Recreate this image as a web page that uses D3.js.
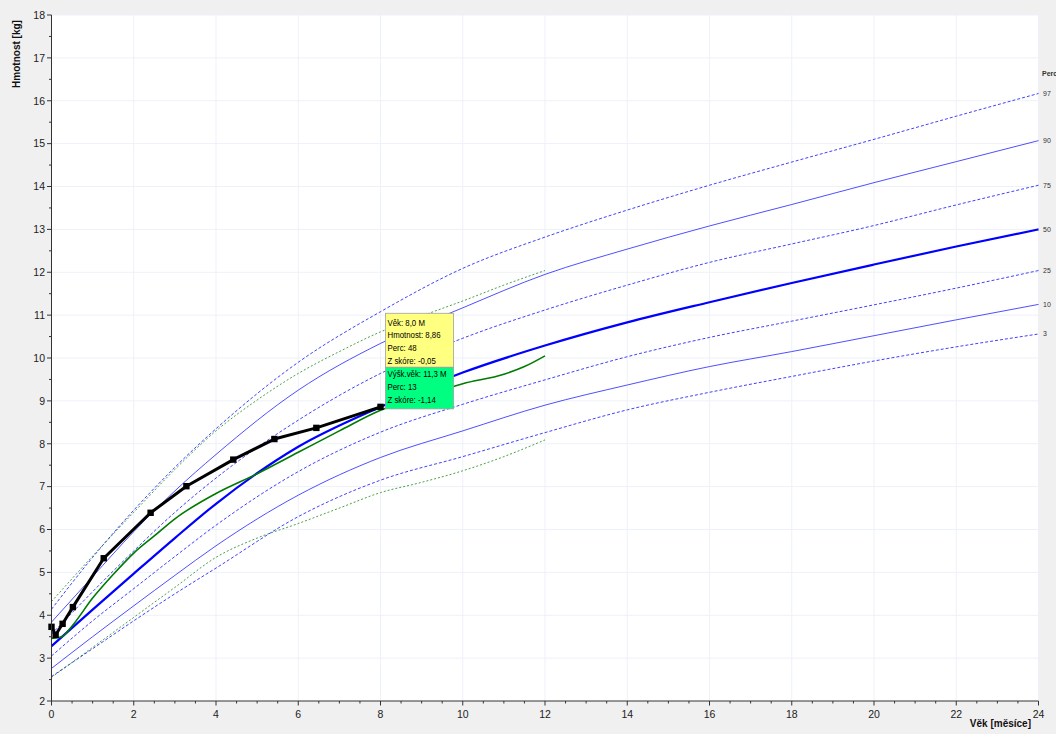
<!DOCTYPE html>
<html><head><meta charset="utf-8">
<script src="https://cdn.jsdelivr.net/npm/d3@7"></script>
<style>
html,body{margin:0;padding:0;background:#f0f0f0;}
svg{display:block;font-family:"Liberation Sans",Arial,sans-serif;}
</style></head><body>
<svg id="c" width="1056" height="734"></svg>
<script>
// ---- data ----
const months = [0,1,2,3,4,6,8,10,12,14,16,18,20,22,24];
const p97 = [4.14,5.35,6.45,7.45,8.35,9.9,11.08,12.09,12.82,13.45,14.03,14.57,15.1,15.64,16.17];
const p90 = [3.84,4.9,5.95,6.9,7.75,9.25,10.34,11.17,11.95,12.54,13.08,13.58,14.09,14.58,15.07];
const p75 = [3.56,4.55,5.5,6.4,7.2,8.55,9.64,10.46,11.12,11.7,12.23,12.66,13.09,13.57,14.03];
const p50 = [3.28,4.13,4.97,5.8,6.6,7.93,8.86,9.66,10.29,10.83,11.3,11.75,12.18,12.6,13.0];
const p25 = [3.05,3.87,4.62,5.37,6.1,7.35,8.27,8.92,9.49,10.03,10.48,10.86,11.24,11.63,12.04];
const p10 = [2.76,3.5,4.22,4.93,5.62,6.8,7.68,8.3,8.9,9.37,9.8,10.15,10.52,10.89,11.25];
const p3  = [2.57,3.22,3.87,4.5,5.1,6.3,7.15,7.7,8.26,8.79,9.2,9.57,9.93,10.26,10.56];
const percLabels = ["97","90","75","50","25","10","3"];

const greenMonths = [0,1,2,3,4,5,6,7,8,9,10,11,12];
const greenUpper = [4.32,5.38,6.4,7.4,8.3,9.02,9.64,10.15,10.61,10.98,11.33,11.7,12.04];
const greenLower = [2.55,3.25,3.95,4.65,5.35,5.8,6.14,6.5,6.86,7.1,7.37,7.7,8.09];
const greenMidMonths = [0,0.25,0.5,1,1.5,2,2.5,3,4,5,6,7,8,9,10,11,11.5,12];
const greenMid = [3.46,3.5,3.75,4.4,4.95,5.45,5.85,6.25,6.84,7.3,7.8,8.3,8.78,9.1,9.4,9.62,9.8,10.05];

const childAge = [0,0.1,0.27,0.52,1.27,2.41,3.28,4.42,5.42,6.44,8.0];
const childWeight = [3.73,3.54,3.8,4.19,5.33,6.39,7.01,7.63,8.11,8.37,8.86];

const tipWeight = ["Věk: 8,0  M","Hmotnost: 8,86","Perc: 48","Z skóre: -0,05"];
const tipHeight = ["Výšk.věk: 11,3 M","Perc: 13","Z skóre: -1,14"];
const tipIndex = 10;

// ---- chart ----
const svg = d3.select("#c");
const x = d3.scaleLinear().domain([0,24]).range([51.5,1038.5]);
const y = d3.scaleLinear().domain([2,18]).range([701,15]);

svg.append("rect").attr("x",x(0)).attr("y",y(18)).attr("width",x(24)-x(0)).attr("height",y(2)-y(18)).attr("fill","#fff");

// grid
const g = svg.append("g");
g.selectAll(".gx").data(d3.range(2,25,2)).join("line")
  .attr("x1",d=>x(d)).attr("x2",d=>x(d)).attr("y1",y(2)).attr("y2",y(18))
  .attr("stroke","#edf1f8").attr("stroke-width",1);
g.selectAll(".gy").data(d3.range(3,19,1)).join("line")
  .attr("x1",x(0)).attr("x2",x(24)).attr("y1",d=>y(d)).attr("y2",d=>y(d))
  .attr("stroke","#edf1f8").attr("stroke-width",1);

const line = (xs, ys, curve) => d3.line().x((d,i)=>x(xs[i])).y(d=>y(d)).curve(curve||d3.curveMonotoneX)(ys);

const percSeries = [
  {v:p97, dash:"3,2", w:1, c:"#2020ff", o:0.85},
  {v:p90, dash:null, w:1, c:"#3030ff", o:0.85},
  {v:p75, dash:"3,2", w:1, c:"#2020ff", o:0.85},
  {v:p50, dash:null, w:2.2, c:"#0000ff", o:1},
  {v:p25, dash:"3,2", w:1, c:"#2020ff", o:0.85},
  {v:p10, dash:null, w:1, c:"#3030ff", o:0.85},
  {v:p3,  dash:"3,2", w:1, c:"#2020ff", o:0.85}
];
percSeries.forEach(s=>{
  svg.append("path").attr("d",line(months,s.v)).attr("fill","none")
    .attr("stroke",s.c).attr("stroke-width",s.w).attr("stroke-opacity",s.o)
    .attr("stroke-dasharray",s.dash);
});

// green height-age lines
[greenUpper, greenLower].forEach(v=>{
  svg.append("path").attr("d",line(greenMonths,v)).attr("fill","none")
    .attr("stroke","#2a8f2a").attr("stroke-width",1).attr("stroke-opacity",0.85)
    .attr("stroke-dasharray","2,2");
});
svg.append("path").attr("d",line(greenMidMonths,greenMid)).attr("fill","none")
  .attr("stroke","#007a00").attr("stroke-width",1.6);

// child measurements
svg.append("path").attr("d",line(childAge,childWeight,d3.curveLinear)).attr("fill","none")
  .attr("stroke","#000").attr("stroke-width",3).attr("stroke-linejoin","round");
svg.selectAll(".pt").data(childAge).join("rect")
  .attr("x",(d)=>x(d)-3.2).attr("y",(d,i)=>y(childWeight[i])-3.2)
  .attr("width",6.4).attr("height",6.4).attr("fill","#000");

// tooltip
const px = x(childAge[tipIndex]), py = y(childWeight[tipIndex]);
const bx = px+5, bw = 68, h1 = 54, h2 = 41.6;
const by2 = py+2-h2, by1 = by2-h1;
svg.append("rect").attr("x",bx).attr("y",by1).attr("width",bw).attr("height",h1)
  .attr("fill","#ffff80").attr("stroke","#a0a0a0").attr("stroke-width",0.8);
svg.append("rect").attr("x",bx).attr("y",by2).attr("width",bw).attr("height",h2)
  .attr("fill","#00ff80").attr("stroke","#a0a0a0").attr("stroke-width",0.8);
const tt = svg.append("g").attr("transform",`translate(${bx+2},${by1}) scale(0.8,1)`)
  .attr("font-size",9.8).attr("fill","#000");
tipWeight.forEach((t,i)=>tt.append("text").attr("x",0).attr("y",12.5+i*12.6).text(t));
tipHeight.forEach((t,i)=>tt.append("text").attr("x",0).attr("y",h1+9.5+i*13.1).text(t));

// axes
const axc = "#333";
const yAxis = svg.append("g");
yAxis.append("line").attr("x1",x(0)).attr("x2",x(0)).attr("y1",y(2)).attr("y2",y(18)).attr("stroke",axc);
yAxis.selectAll(".ym").data(d3.range(2,18.01,0.5)).join("line")
  .attr("x1",d=>x(0)-(d%1===0?4.5:2.5)).attr("x2",x(0)).attr("y1",d=>y(d)).attr("y2",d=>y(d)).attr("stroke",axc);
yAxis.selectAll(".yl").data(d3.range(2,19,1)).join("text")
  .attr("x",45).attr("y",d=>y(d)+3.8).attr("text-anchor","end").attr("font-size",10.5).attr("fill","#222").text(d=>d);

const xAxis = svg.append("g");
xAxis.append("line").attr("x1",x(0)).attr("x2",x(24)).attr("y1",y(2)).attr("y2",y(2)).attr("stroke",axc);
xAxis.selectAll(".xm").data(d3.range(0,24.01,0.5)).join("line")
  .attr("x1",d=>x(d)).attr("x2",d=>x(d)).attr("y1",y(2)).attr("y2",d=>y(2)+(d%2===0?4.5:2.5)).attr("stroke",axc);
xAxis.selectAll(".xl").data(d3.range(0,25,2)).join("text")
  .attr("x",d=>x(d)).attr("y",718).attr("text-anchor","middle").attr("font-size",10.5).attr("fill","#222").text(d=>d);

svg.append("text").attr("transform","translate(20,54) rotate(-90)").attr("text-anchor","middle")
  .attr("font-size",10).attr("font-weight","bold").attr("fill","#111").text("Hmotnost [kg]");
svg.append("text").attr("x",1031).attr("y",727).attr("text-anchor","end")
  .attr("font-size",10).attr("font-weight","bold").attr("fill","#111").text("Věk [měsíce]");

// percentile labels
svg.append("text").attr("x",1042).attr("y",76).attr("font-size",7).attr("font-weight","bold").attr("fill","#333").text("Perc");
percSeries.forEach((s,i)=>{
  svg.append("text").attr("x",1043).attr("y",y(s.v[s.v.length-1])+2.5)
    .attr("font-size",7).attr("fill","#333").text(percLabels[i]);
});
</script></body></html>
